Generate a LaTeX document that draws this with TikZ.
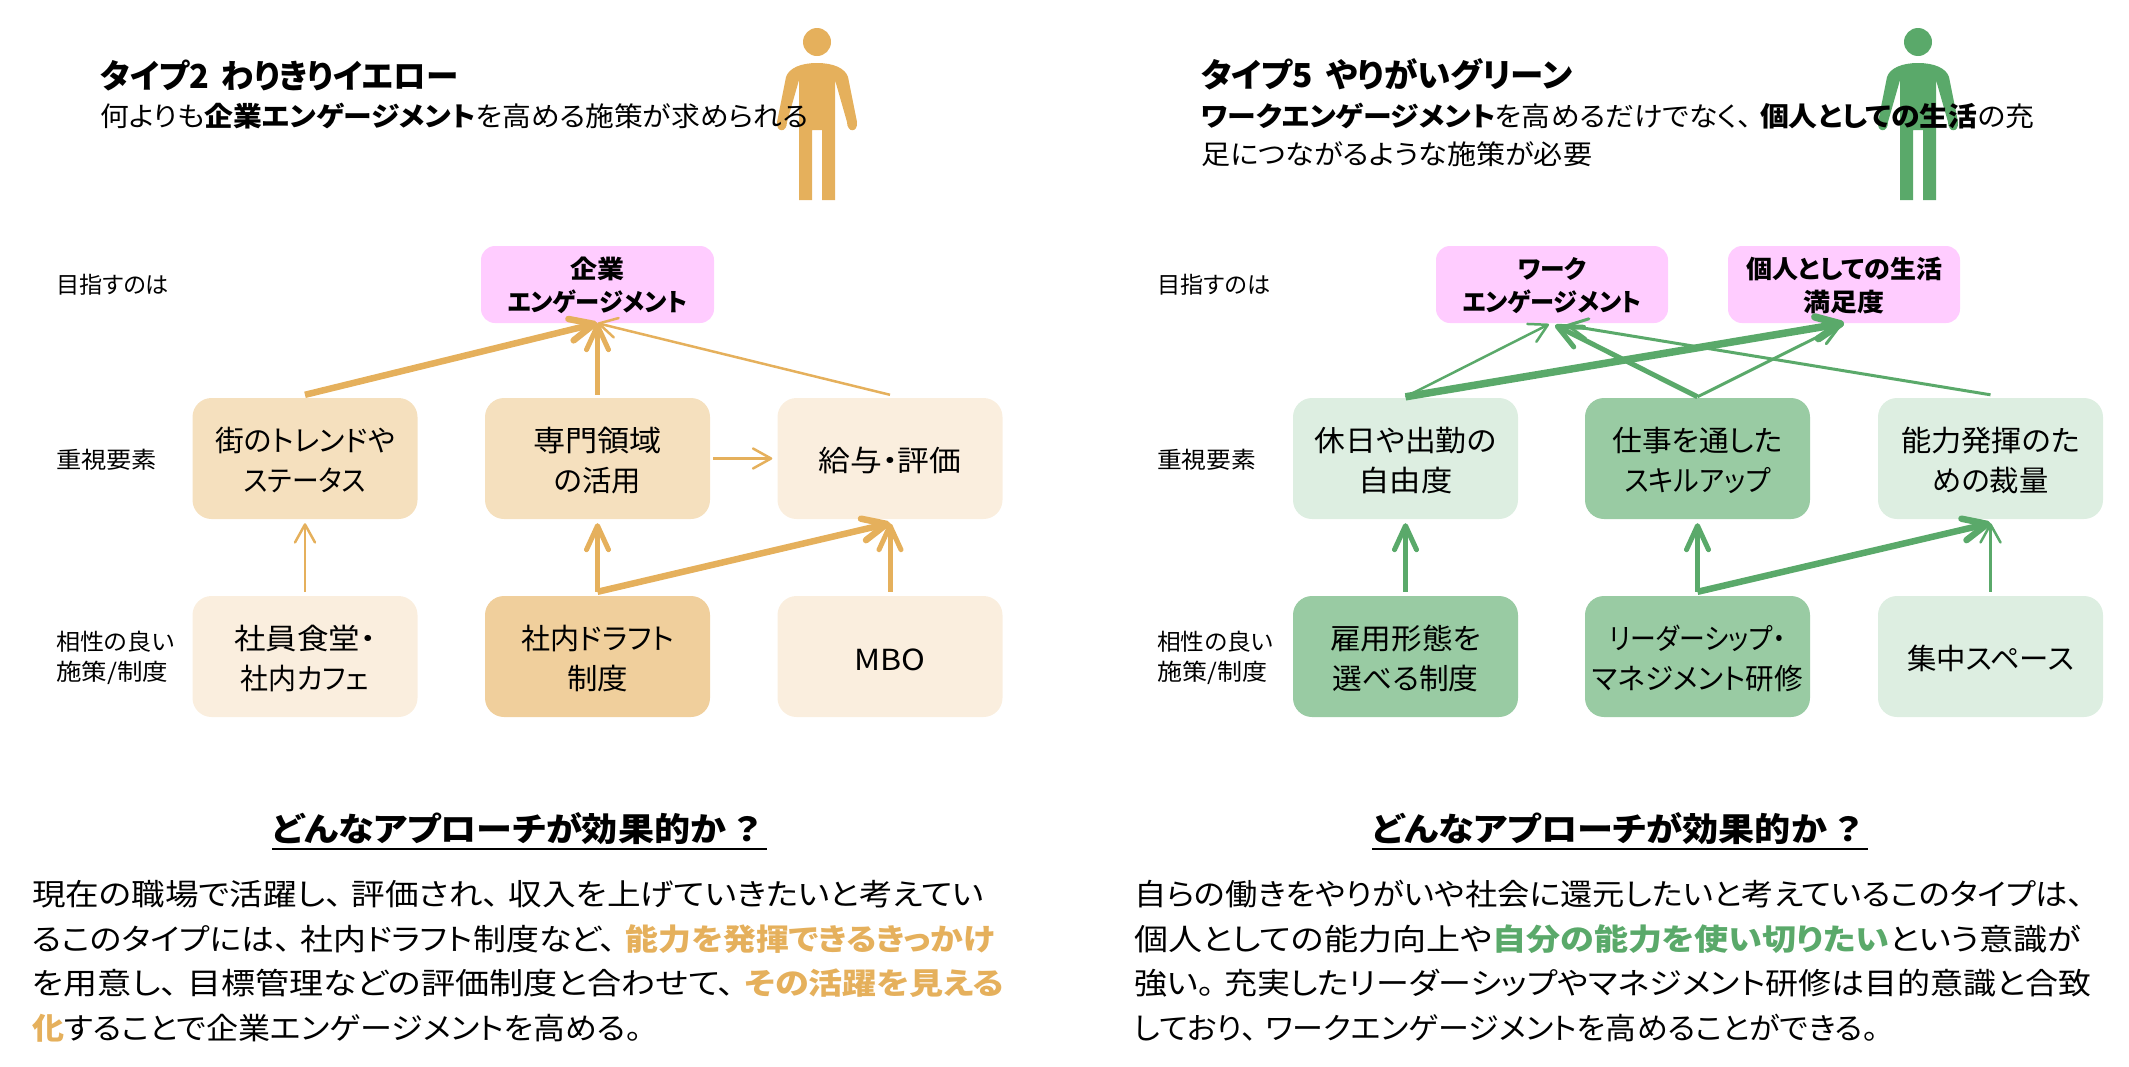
\documentclass[tikz,border=0pt]{standalone}
\usepackage{fontspec}
\usepackage{graphicx}
\usetikzlibrary{arrows.meta}
\setmainfont{Noto Sans CJK JP}[RawFeature=+palt]
\definecolor{ora}{HTML}{E5B05C}
\definecolor{gre}{HTML}{5AA96A}
\definecolor{oraA}{HTML}{FAEEDE}
\definecolor{oraB}{HTML}{F5E0BE}
\definecolor{oraC}{HTML}{F0CF9C}
\definecolor{greA}{HTML}{DDEEE1}
\definecolor{greB}{HTML}{99CBA3}
\definecolor{pnk}{HTML}{FFCCFF}
\newcommand\Fit[2]{\resizebox{#1pt}{\height}{#2}}
\newcommand\Bx[2]{\rule{0pt}{28pt}\Fit{#1}{#2}}
\newcommand\Gx[2]{\rule{0pt}{24pt}\Fit{#1}{#2}}
\newcommand\Tou{、\hspace{.28em}}
\newcommand\Maru{。\hspace{.28em}}
\tikzset{
  pbox/.style={fill=#1,draw=none,rounded corners=19pt,minimum width=225pt,minimum height=121pt,inner sep=0pt,align=center,font=\fontsize{29}{40}\selectfont},
  goal/.style={fill=pnk,draw=none,rounded corners=14pt,minimum width=232pt,minimum height=77pt,inner sep=0pt,align=center,font=\fontsize{25}{33}\selectfont\bfseries},
  lbl/.style={anchor=west,inner sep=0pt,font=\fontsize{#1}{#1}\selectfont},
  lnA/.style={line width=2.5pt,#1,-{Straight Barb[length=18pt,width=20pt,round]}},
  lnB/.style={line width=5pt,#1,-{Straight Barb[length=24pt,width=22pt,round]}},
  lnC/.style={line width=6.5pt,#1,-{Straight Barb[length=24pt,width=22pt,round]}},
  lnD/.style={line width=3pt,#1,-{Straight Barb[length=20pt,width=20pt,round]}},
  lnE/.style={line width=7.5pt,#1,-{Straight Barb[length=24pt,width=22pt,round]}},
  person/.pic={
    \fill[pic actions] (0,42) circle[radius=14pt];
    \fill[pic actions] (0,63) .. controls (-16,63) and (-28,68) .. (-31,77) -- (-40,122)
      .. controls (-41,133) and (-30,133) .. (-30,122) -- (-18,80) -- (-18,200) -- (-5,200) -- (-5,130)
      -- (5,130) -- (5,200) -- (18,200) -- (18,80) -- (30,122)
      .. controls (30,133) and (41,133) .. (40,122) -- (31,77) .. controls (28,68) and (16,63) .. (0,63) -- cycle;
  }
}
\begin{document}
\begin{tikzpicture}[x=1pt,y=-1pt]
\useasboundingbox (0,0) rectangle (2129,1066);

% figures
\pic[fill=ora] at (817,0) {person};
\pic[fill=gre] at (1918,0) {person};

% headers, left
\node[lbl=33] (t1) at (100,75) {\Fit{358}{\bfseries タイプ2\hspace{.15em} わりきりイエロー}};
\node[lbl=27] (d1) at (100,116) {\Fit{708}{何よりも\textbf{企業エンゲージメント}を高める施策が求められる}};
% headers, right
\node[lbl=33] (t2) at (1201,75) {\Fit{371}{\bfseries タイプ5\hspace{.15em} やりがいグリーン}};
\node[lbl=27] (d2) at (1201,116) {\Fit{833}{\textbf{ワークエンゲージメント}を高めるだけでなく\Tou\textbf{個人としての生活}の充}};
\node[lbl=27] (d3) at (1201,154) {\Fit{391}{足につながるような施策が必要}};

% row labels, left
\node[lbl=23] (r1) at (56,285) {\Fit{113}{目指すのは}};
\node[lbl=23] (r2) at (56,460) {\Fit{101}{重視要素}};
\node[lbl=23] (r3) at (56,642) {\Fit{118}{相性の良い}};
\node[lbl=23] (r4) at (56,673) {\Fit{112}{施策/制度}};
% row labels, right
\node[lbl=23] (s1) at (1157,285) {\Fit{113}{目指すのは}};
\node[lbl=23] (s2) at (1157,460) {\Fit{99}{重視要素}};
\node[lbl=23] (s3) at (1157,642) {\Fit{116}{相性の良い}};
\node[lbl=23] (s4) at (1157,673) {\Fit{110}{施策/制度}};

% left diagram
\node[goal,minimum width=233pt] (g) at (597.5,284.5) {\Gx{54}{企業}\\\Fit{180}{エンゲージメント}};
\node[pbox=oraB] (a1) at (305,458.5) {\Bx{180}{街のトレンドや}\\\Fit{122}{ステータス}};
\node[pbox=oraB] (a2) at (597.5,458.5) {\Bx{129}{専門領域}\\\Fit{87}{の活用}};
\node[pbox=oraA] (a3) at (890,458.5) {\Bx{143}{給与・評価}};
\node[pbox=oraA] (b1) at (305,656.5) {\Bx{142}{社員食堂・}\\\Fit{128}{社内カフェ}};
\node[pbox=oraC] (b2) at (597.5,656.5) {\Bx{153}{社内ドラフト}\\\Fit{61}{制度}};
\node[pbox=oraA] (b3) at (890,656.5) {\Bx{71}{MBO}};

\draw[lnA=ora] ([yshift=3pt]a3.north) -- (g.south);
\draw[lnC=ora] ([yshift=3pt]a1.north) -- (g.south);
\draw[lnB=ora] ([yshift=3pt]a2.north) -- (g.south);
\draw[lnA=ora] ([xshift=3pt]a2.east) -- ([xshift=-5pt]a3.west);
\draw[lnA=ora] ([yshift=4pt]b1.north) -- ([yshift=-4pt]a1.south);
\draw[lnB=ora] ([yshift=4pt]b2.north) -- ([yshift=-4pt]a2.south);
\draw[lnC=ora] ([yshift=4pt]b2.north) -- ([yshift=-4pt]a3.south);
\draw[lnB=ora] ([yshift=4pt]b3.north) -- ([yshift=-4pt]a3.south);

% right diagram
\node[goal] (gw) at (1552,284.5) {\Gx{69}{ワーク}\\\Fit{179}{エンゲージメント}};
\node[goal] (gp) at (1844,284.5) {\Gx{196}{個人としての生活}\\\Fit{81}{満足度}};
\node[pbox=greA] (c1) at (1405.5,458.5) {\Bx{182}{休日や出勤の}\\\Fit{94}{自由度}};
\node[pbox=greB] (c2) at (1697.5,458.5) {\Bx{170}{仕事を通した}\\\Fit{146}{スキルアップ}};
\node[pbox=greA] (c3) at (1990.5,458.5) {\Bx{179}{能力発揮のた}\\\Fit{116}{めの裁量}};
\node[pbox=greB] (e1) at (1405.5,656.5) {\Bx{151}{雇用形態を}\\\Fit{146}{選べる制度}};
\node[pbox=greB] (e2) at (1697.5,656.5) {\Bx{176}{リーダーシップ・}\\\Fit{210}{マネジメント研修}};
\node[pbox=greA] (e3) at (1990.5,656.5) {\Bx{167}{集中スペース}};

\draw[lnA=gre] ([yshift=1pt]c1.north) -- ([xshift=-3pt,yshift=-1pt]gw.south);
\draw[lnE=gre] ([yshift=1pt]c1.north) -- (gp.south);
\draw[lnB=gre] ([yshift=1pt]c2.north) -- ([xshift=3pt,yshift=-2pt]gw.south);
\draw[lnD=gre] ([yshift=1pt]c2.north) -- ([xshift=-3pt,yshift=-2pt]gp.south);
\draw[lnD=gre] ([yshift=3pt]c3.north) -- ([xshift=14pt,yshift=-2pt]gw.south);
\draw[lnB=gre] ([yshift=4pt]e1.north) -- ([yshift=-4pt]c1.south);
\draw[lnB=gre] ([yshift=4pt]e2.north) -- ([yshift=-4pt]c2.south);
\draw[lnC=gre] ([yshift=4pt]e2.north) -- ([yshift=-4pt]c3.south);
\draw[lnA=gre] ([yshift=4pt]e3.north) -- ([yshift=-4pt]c3.south);

% bottom, left
\node[lbl=33] (h1) at (272,829) {\Fit{495}{\bfseries どんなアプローチが効果的か\hspace{.25em}？\hspace{.2em}}};
\draw[line width=2.5pt] (h1.west |- 0,849) -- (h1.east |- 0,849);
\node[lbl=30] (p1) at (32,894) {\Fit{952}{現在の職場で活躍し\Tou 評価され\Tou 収入を上げていきたいと考えてい}};
\node[lbl=30] (p2) at (32,939) {\Fit{963}{るこのタイプには\Tou 社内ドラフト制度など\Tou\textcolor{ora}{\textbf{能力を発揮できるきっかけ}}}};
\node[lbl=30] (p3) at (32,983) {\Fit{972}{を用意し\Tou 目標管理などの評価制度と合わせて\Tou\textcolor{ora}{\textbf{その活躍を見える}}}};
\node[lbl=30] (p4) at (32,1028) {\Fit{610}{\textcolor{ora}{\textbf{化}}することで企業エンゲージメントを高める。}};

% bottom, right
\node[lbl=33] (h2) at (1372,829) {\Fit{496}{\bfseries どんなアプローチが効果的か\hspace{.25em}？\hspace{.2em}}};
\draw[line width=2.5pt] (h2.west |- 0,849) -- (h2.east |- 0,849);
\node[lbl=30] (q1) at (1134,894) {\Fit{950}{自らの働きをやりがいや社会に還元したいと考えているこのタイプは、}};
\node[lbl=30] (q2) at (1134,939) {\Fit{947}{個人としての能力向上や\textcolor{gre}{\textbf{自分の能力を使い切りたい}}という意識が}};
\node[lbl=30] (q3) at (1134,983) {\Fit{957}{強い\Maru 充実したリーダーシップやマネジメント研修は目的意識と合致}};
\node[lbl=30] (q4) at (1134,1028) {\Fit{744}{しており\Tou ワークエンゲージメントを高めることができる。}};
\end{tikzpicture}
\end{document}
